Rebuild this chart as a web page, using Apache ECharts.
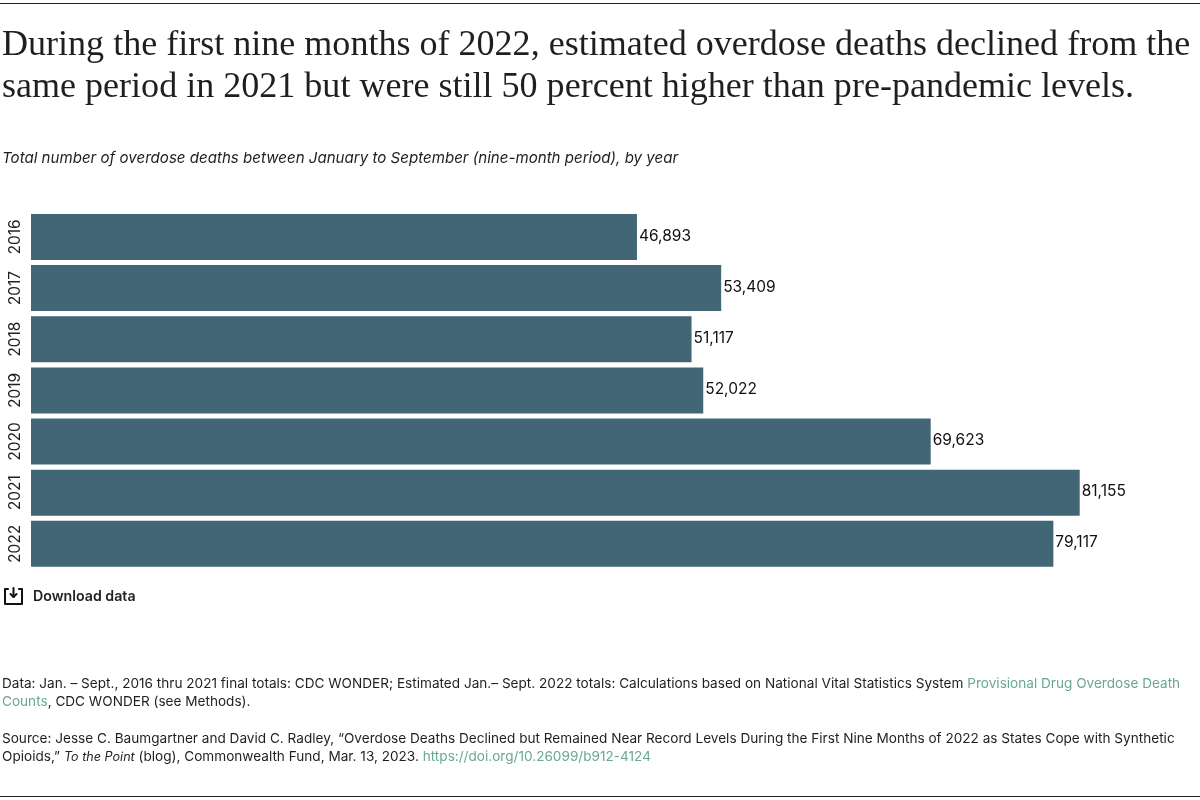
<!DOCTYPE html>
<html><head><meta charset="utf-8">
<style>html,body{margin:0;padding:0;background:#fff}#c{width:1200px;height:800px}</style>
<script src="https://cdn.jsdelivr.net/npm/echarts@6/dist/echarts.min.js"></script></head>
<body><div id="c"></div>
<script>
const years = ['2016','2017','2018','2019','2020','2021','2022'];
const deaths = [46893,53409,51117,52022,69623,81155,79117];
const titleLines = ['During the first nine months of 2022, estimated overdose deaths declined from the','same period in 2021 but were still 50 percent higher than pre-pandemic levels.'];
const subtitle = 'Total number of overdose deaths between January to September (nine-month period), by year';
const barColor = '#426676', ink = '#1f1f1f', linkColor = '#6aa98f';
const body = 'Inter, "Noto Sans", sans-serif';
const chart = echarts.init(document.getElementById('c'), null, {renderer:'canvas'});
function t(x,y,text,font,color,rich){
  return {type:'text',x,y,style:{text,font,fill:color||ink,rich:rich,verticalAlign:'middle'}};
}
const smallSize = 13.6;
const smallFont = smallSize+'px '+body;
const rich = {
  l:{fill:linkColor,fontFamily:'Inter',fontSize:smallSize},
  i:{fill:ink,fontFamily:'Inter',fontSize:12.6,fontStyle:'italic'}
};
const stroke = {fill:null,stroke:'#111',lineWidth:2,lineJoin:'round',lineCap:'round'};
chart.setOption({
  animation:false,
  grid:{left:31,top:211.4,width:1163,height:358},
  xAxis:{type:'value',min:0,max:90000,show:false},
  yAxis:{type:'category',data:years,inverse:true,
    axisLine:{show:false},axisTick:{show:false},
    axisLabel:{rotate:90,margin:8,fontFamily:'Inter',fontSize:15.5,color:ink,align:'center',verticalAlign:'bottom'}},
  series:[{type:'bar',data:deaths,barWidth:46,itemStyle:{color:barColor},
    label:{show:true,position:'right',distance:2,offset:[0,-1],fontFamily:'Inter',fontSize:15.5,color:'#111',
      formatter:p=>p.value.toLocaleString('en-US')}}],
  graphic:[
    {type:'rect',shape:{x:0,y:3,width:1200,height:1},style:{fill:'#222'}},
    {type:'rect',shape:{x:0,y:796,width:1200,height:1},style:{fill:'#222'}},
    t(2,46,titleLines[0],'36.05px "Liberation Serif"'),
    t(2,88,titleLines[1],'36.05px "Liberation Serif"'),
    t(2,158,subtitle,'italic 15.1px '+body),
    {type:'polyline',shape:{points:[[8,589],[5,589],[5,604],[22,604],[22,589],[19,589]]},style:stroke},
    {type:'polyline',shape:{points:[[13.5,588],[13.5,597]]},style:stroke},
    {type:'polyline',shape:{points:[[10.5,594],[13.5,597],[16.5,594]]},style:stroke},
    t(33,597,'Download data','600 14.2px '+body,'#222'),
    t(2,684,'Data: Jan. – Sept., 2016 thru 2021 final totals: CDC WONDER; Estimated Jan.– Sept. 2022 totals: Calculations based on National Vital Statistics System {l|Provisional Drug Overdose Death}',smallFont,ink,rich),
    t(2,702,'{l|Counts}, CDC WONDER (see Methods).',smallFont,ink,rich),
    t(2,739,'Source: Jesse C. Baumgartner and David C. Radley, “Overdose Deaths Declined but Remained Near Record Levels During the First Nine Months of 2022 as States Cope with Synthetic',smallFont,ink,rich),
    t(2,757,'Opioids,” {i|To the Point} (blog), Commonwealth Fund, Mar. 13, 2023. {l|https://doi.org/10.26099/b912-4124}',smallFont,ink,rich)
  ]
});
</script></body></html>
